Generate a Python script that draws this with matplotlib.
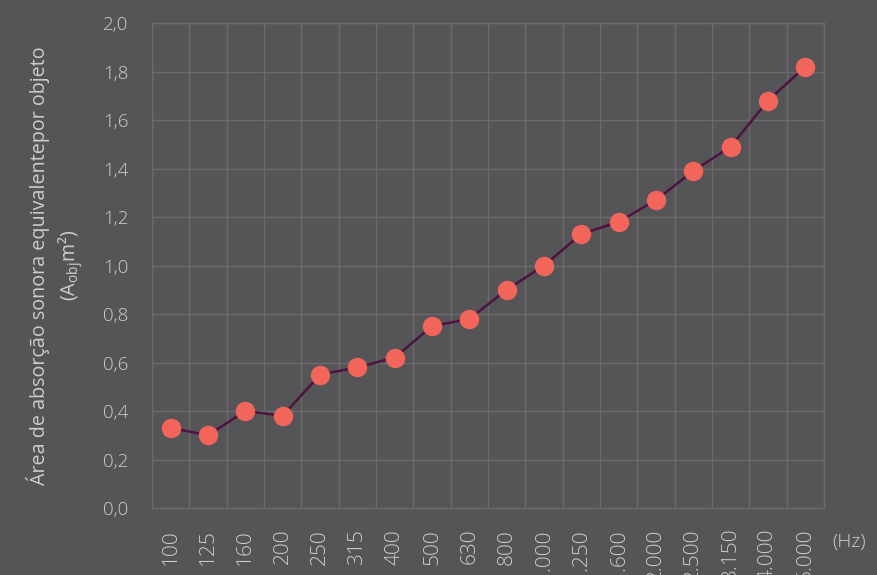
import matplotlib.pyplot as plt
import numpy as np

# frequencias de banda de terco de oitava
freqs = ["100", "125", "160", "200", "250", "315", "400", "500", "630", "800",
         "1.000", "1.250", "1.600", "2.000", "2.500", "3.150", "4.000", "5.000"]
# area de absorcao equivalente por objeto (m2)
a_obj = [0.33, 0.30, 0.40, 0.38, 0.55, 0.58, 0.62, 0.75, 0.78, 0.90,
         1.00, 1.13, 1.18, 1.27, 1.39, 1.49, 1.68, 1.82]
yticks = [0.0, 0.2, 0.4, 0.6, 0.8, 1.0, 1.2, 1.4, 1.6, 1.8, 2.0]

fundo = '#555557'
grade = '#6b6b6d'
texto = '#cdcdcd'

plt.rcParams['font.family'] = ['Open Sans', 'DejaVu Sans']
plt.rcParams['font.weight'] = 'light'
plt.rcParams['mathtext.fontset'] = 'custom'
plt.rcParams['mathtext.rm'] = 'Open Sans'

fig = plt.figure(figsize=(8.77, 5.75), dpi=100, facecolor=fundo)
ax = fig.add_axes([0.1733, 0.1165, 0.7663, 0.8435])
ax.set_facecolor(fundo)

x = np.arange(len(freqs))
ax.plot(x, a_obj, color='#4e1340', lw=1.8, zorder=3)
ax.plot(x, a_obj, 'o', color='#f2655b', markersize=13, zorder=4)

ax.set_xlim(-0.5, len(freqs) - 0.5)
ax.set_ylim(0, 2.0)
ax.set_xticks(x)
ax.set_xticklabels(freqs, rotation=90, va='top', color=texto, fontsize=15)
ax.set_xticks(np.arange(-0.5, len(freqs), 1), minor=True)
ax.set_yticks(yticks)
ax.set_yticklabels([f"{v:.1f}".replace('.', ',') for v in yticks],
                   color=texto, fontsize=13.5)

ax.tick_params(axis='x', which='major', length=0, pad=15)
ax.tick_params(axis='x', which='minor', length=0)
ax.tick_params(axis='y', length=0, pad=17)

ax.grid(True, which='minor', axis='x', color=grade, lw=1)
ax.grid(True, which='major', axis='y', color=grade, lw=1)
ax.set_axisbelow(True)
for s in ax.spines.values():
    s.set_color(grade)
    s.set_linewidth(1)

ax.set_ylabel("Área de absorção sonora equivalentepor objeto\n(A$_\\mathregular{obj}$m²)",
              color=texto, fontsize=14.2, labelpad=13, linespacing=1.3)

fig.text(0.9495, 0.058, "(Hz)", color=texto, fontsize=14, ha='left', va='center')

plt.savefig('out.png', dpi=100, facecolor=fundo)
